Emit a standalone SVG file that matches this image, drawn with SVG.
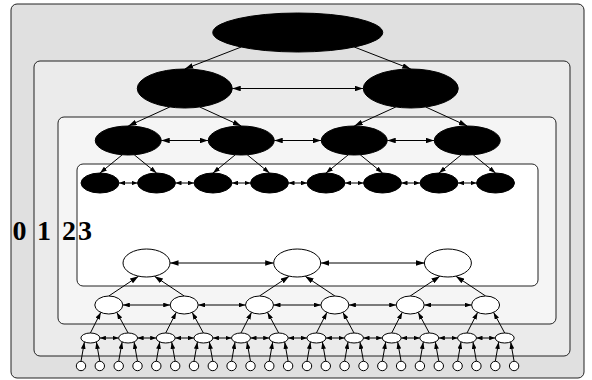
<svg xmlns="http://www.w3.org/2000/svg" width="592" height="380" viewBox="0 0 592 380">
<style>
.box{stroke:#222;stroke-width:1}
.b{fill:#000;stroke:#000;stroke-width:1}
.w{fill:#fff;stroke:#000;stroke-width:1}
.e{fill:none;stroke:#000;stroke-width:1}
.lbl{font-family:"Liberation Serif","Times New Roman",serif;font-weight:bold;font-size:28px;fill:#000}
.big{marker-end:url(#ab)}
.bigb{marker-start:url(#ab);marker-end:url(#ab)}
.med{marker-end:url(#am)}
.medb{marker-start:url(#am);marker-end:url(#am)}
.smb{marker-start:url(#as);marker-end:url(#as)}
</style>
<defs>
<marker id="ab" markerUnits="userSpaceOnUse" markerWidth="8.5" markerHeight="5.6" refX="8.5" refY="2.8" orient="auto-start-reverse"><path d="M0,0L8.5,2.8L0,5.6z" fill="#000"/></marker>
<marker id="am" markerUnits="userSpaceOnUse" markerWidth="7" markerHeight="4.8" refX="7" refY="2.4" orient="auto-start-reverse"><path d="M0,0L7,2.4L0,4.8z" fill="#000"/></marker>
<marker id="as" markerUnits="userSpaceOnUse" markerWidth="6" markerHeight="4.6" refX="6" refY="2.3" orient="auto-start-reverse"><path d="M0,0L6,2.3L0,4.6z" fill="#000"/></marker>
</defs>
<g id="cluster0"><rect class="box" x="11" y="4" width="573" height="374" rx="6" fill="#e0e0e0"/><text class="lbl" x="12.5" y="240">0</text></g>
<g id="cluster1"><rect class="box" x="34" y="61" width="536" height="295" rx="6" fill="#ebebeb"/><text class="lbl" x="37" y="240">1</text></g>
<g id="cluster2"><rect class="box" x="58" y="117" width="498" height="207" rx="6" fill="#f5f5f5"/><text class="lbl" x="62" y="240">2</text></g>
<g id="cluster3"><rect class="box" x="77" y="164" width="461" height="122" rx="6" fill="#ffffff"/><text class="lbl" x="78" y="240">3</text></g>
<g id="connectors">
<path class="e big" d="M241.25,47L184.75,69"/>
<path class="e big" d="M354.25,47L410.75,69"/>
<path class="e bigb" d="M232.25,88.5L363.25,88.5"/>
<path class="e big" d="M169.75,107L128.25,126"/>
<path class="e big" d="M199.75,107L241.25,126"/>
<path class="e big" d="M395.75,107L354.25,126"/>
<path class="e big" d="M425.75,107L467.25,126"/>
<path class="e bigb" d="M161.25,140.5L208.25,140.5"/>
<path class="e bigb" d="M274.25,140.5L321.25,140.5"/>
<path class="e bigb" d="M387.25,140.5L434.25,140.5"/>
<path class="e med" d="M122.25,154.8L100,173"/>
<path class="e med" d="M134.25,154.8L156.5,173"/>
<path class="e med" d="M235.25,154.8L213,173"/>
<path class="e med" d="M247.25,154.8L269.5,173"/>
<path class="e med" d="M348.25,154.8L326,173"/>
<path class="e med" d="M360.25,154.8L382.5,173"/>
<path class="e med" d="M461.25,154.8L439,173"/>
<path class="e med" d="M473.25,154.8L495.5,173"/>
<path class="e smb" d="M119,183L137.5,183"/>
<path class="e smb" d="M175.5,183L194,183"/>
<path class="e smb" d="M232,183L250.5,183"/>
<path class="e smb" d="M288.5,183L307,183"/>
<path class="e smb" d="M345,183L363.5,183"/>
<path class="e smb" d="M401.5,183L420,183"/>
<path class="e smb" d="M458,183L476.5,183"/>
<path class="e bigb" d="M170,263L273.7,263"/>
<path class="e bigb" d="M320.7,263L424.4,263"/>
<path class="e big" d="M108.8,296L138.5,276.2"/>
<path class="e big" d="M184.2,296L154.5,276.2"/>
<path class="e big" d="M259.5,296L289.2,276.2"/>
<path class="e big" d="M334.9,296L305.2,276.2"/>
<path class="e big" d="M410.2,296L439.9,276.2"/>
<path class="e big" d="M485.6,296L455.9,276.2"/>
<path class="e medb" d="M122.8,305L170.2,305"/>
<path class="e medb" d="M198.2,305L245.5,305"/>
<path class="e medb" d="M273.5,305L320.9,305"/>
<path class="e medb" d="M348.9,305L396.2,305"/>
<path class="e medb" d="M424.2,305L471.6,305"/>
<path class="e med" d="M90.4,333L100.8,312.4"/>
<path class="e med" d="M128.1,333L116.8,312.4"/>
<path class="e med" d="M165.7,333L176.2,312.4"/>
<path class="e med" d="M203.4,333L192.2,312.4"/>
<path class="e med" d="M241,333L251.5,312.4"/>
<path class="e med" d="M278.7,333L267.5,312.4"/>
<path class="e med" d="M316.4,333L326.9,312.4"/>
<path class="e med" d="M354,333L342.9,312.4"/>
<path class="e med" d="M391.7,333L402.2,312.4"/>
<path class="e med" d="M429.3,333L418.2,312.4"/>
<path class="e med" d="M467,333L477.6,312.4"/>
<path class="e med" d="M504.7,333L493.6,312.4"/>
<path class="e smb" d="M99.9,338L118.6,338"/>
<path class="e smb" d="M137.6,338L156.2,338"/>
<path class="e smb" d="M175.2,338L193.9,338"/>
<path class="e smb" d="M212.9,338L231.5,338"/>
<path class="e smb" d="M250.5,338L269.2,338"/>
<path class="e smb" d="M288.2,338L306.9,338"/>
<path class="e smb" d="M325.9,338L344.5,338"/>
<path class="e smb" d="M363.5,338L382.2,338"/>
<path class="e smb" d="M401.2,338L419.8,338"/>
<path class="e smb" d="M438.8,338L457.5,338"/>
<path class="e smb" d="M476.5,338L495.2,338"/>
<path class="e med" d="M81,361.3L84.4,342"/>
<path class="e med" d="M99.8,361.3L96.4,342"/>
<path class="e med" d="M118.7,361.3L122.1,342"/>
<path class="e med" d="M137.5,361.3L134.1,342"/>
<path class="e med" d="M156.3,361.3L159.7,342"/>
<path class="e med" d="M175.2,361.3L171.7,342"/>
<path class="e med" d="M194,361.3L197.4,342"/>
<path class="e med" d="M212.8,361.3L209.4,342"/>
<path class="e med" d="M231.6,361.3L235,342"/>
<path class="e med" d="M250.5,361.3L247,342"/>
<path class="e med" d="M269.3,361.3L272.7,342"/>
<path class="e med" d="M288.1,361.3L284.7,342"/>
<path class="e med" d="M307,361.3L310.4,342"/>
<path class="e med" d="M325.8,361.3L322.4,342"/>
<path class="e med" d="M344.6,361.3L348,342"/>
<path class="e med" d="M363.5,361.3L360,342"/>
<path class="e med" d="M382.3,361.3L385.7,342"/>
<path class="e med" d="M401.1,361.3L397.7,342"/>
<path class="e med" d="M419.9,361.3L423.3,342"/>
<path class="e med" d="M438.8,361.3L435.3,342"/>
<path class="e med" d="M457.6,361.3L461,342"/>
<path class="e med" d="M476.4,361.3L473,342"/>
<path class="e med" d="M495.3,361.3L498.7,342"/>
<path class="e med" d="M514.1,361.3L510.7,342"/>
</g>
<g id="t0"><ellipse class="b" cx="297.75" cy="32.5" rx="85" ry="19.5"/></g>
<g id="t1_0"><ellipse class="b" cx="184.75" cy="88.5" rx="47.5" ry="19.5"/></g>
<g id="t1_1"><ellipse class="b" cx="410.75" cy="88.5" rx="47.5" ry="19.5"/></g>
<g id="t2_0"><ellipse class="b" cx="128.25" cy="140.5" rx="33" ry="14.5"/></g>
<g id="t2_1"><ellipse class="b" cx="241.25" cy="140.5" rx="33" ry="14.5"/></g>
<g id="t2_2"><ellipse class="b" cx="354.25" cy="140.5" rx="33" ry="14.5"/></g>
<g id="t2_3"><ellipse class="b" cx="467.25" cy="140.5" rx="33" ry="14.5"/></g>
<g id="t3_0"><ellipse class="b" cx="100" cy="183" rx="19" ry="10"/></g>
<g id="t3_1"><ellipse class="b" cx="156.5" cy="183" rx="19" ry="10"/></g>
<g id="t3_2"><ellipse class="b" cx="213" cy="183" rx="19" ry="10"/></g>
<g id="t3_3"><ellipse class="b" cx="269.5" cy="183" rx="19" ry="10"/></g>
<g id="t3_4"><ellipse class="b" cx="326" cy="183" rx="19" ry="10"/></g>
<g id="t3_5"><ellipse class="b" cx="382.5" cy="183" rx="19" ry="10"/></g>
<g id="t3_6"><ellipse class="b" cx="439" cy="183" rx="19" ry="10"/></g>
<g id="t3_7"><ellipse class="b" cx="495.5" cy="183" rx="19" ry="10"/></g>
<g id="a0"><ellipse class="w" cx="146.5" cy="263" rx="23.5" ry="14"/></g>
<g id="a1"><ellipse class="w" cx="297.2" cy="263" rx="23.5" ry="14"/></g>
<g id="a2"><ellipse class="w" cx="447.9" cy="263" rx="23.5" ry="14"/></g>
<g id="b0"><ellipse class="w" cx="108.8" cy="305" rx="14" ry="9"/></g>
<g id="b1"><ellipse class="w" cx="184.2" cy="305" rx="14" ry="9"/></g>
<g id="b2"><ellipse class="w" cx="259.5" cy="305" rx="14" ry="9"/></g>
<g id="b3"><ellipse class="w" cx="334.9" cy="305" rx="14" ry="9"/></g>
<g id="b4"><ellipse class="w" cx="410.2" cy="305" rx="14" ry="9"/></g>
<g id="b5"><ellipse class="w" cx="485.6" cy="305" rx="14" ry="9"/></g>
<g id="c0"><ellipse class="w" cx="90.4" cy="338" rx="9.5" ry="5"/></g>
<g id="c1"><ellipse class="w" cx="128.1" cy="338" rx="9.5" ry="5"/></g>
<g id="c2"><ellipse class="w" cx="165.7" cy="338" rx="9.5" ry="5"/></g>
<g id="c3"><ellipse class="w" cx="203.4" cy="338" rx="9.5" ry="5"/></g>
<g id="c4"><ellipse class="w" cx="241" cy="338" rx="9.5" ry="5"/></g>
<g id="c5"><ellipse class="w" cx="278.7" cy="338" rx="9.5" ry="5"/></g>
<g id="c6"><ellipse class="w" cx="316.4" cy="338" rx="9.5" ry="5"/></g>
<g id="c7"><ellipse class="w" cx="354" cy="338" rx="9.5" ry="5"/></g>
<g id="c8"><ellipse class="w" cx="391.7" cy="338" rx="9.5" ry="5"/></g>
<g id="c9"><ellipse class="w" cx="429.3" cy="338" rx="9.5" ry="5"/></g>
<g id="c10"><ellipse class="w" cx="467" cy="338" rx="9.5" ry="5"/></g>
<g id="c11"><ellipse class="w" cx="504.7" cy="338" rx="9.5" ry="5"/></g>
<g id="d0"><circle class="w" cx="81" cy="366" r="4.7"/></g>
<g id="d1"><circle class="w" cx="99.8" cy="366" r="4.7"/></g>
<g id="d2"><circle class="w" cx="118.7" cy="366" r="4.7"/></g>
<g id="d3"><circle class="w" cx="137.5" cy="366" r="4.7"/></g>
<g id="d4"><circle class="w" cx="156.3" cy="366" r="4.7"/></g>
<g id="d5"><circle class="w" cx="175.2" cy="366" r="4.7"/></g>
<g id="d6"><circle class="w" cx="194" cy="366" r="4.7"/></g>
<g id="d7"><circle class="w" cx="212.8" cy="366" r="4.7"/></g>
<g id="d8"><circle class="w" cx="231.6" cy="366" r="4.7"/></g>
<g id="d9"><circle class="w" cx="250.5" cy="366" r="4.7"/></g>
<g id="d10"><circle class="w" cx="269.3" cy="366" r="4.7"/></g>
<g id="d11"><circle class="w" cx="288.1" cy="366" r="4.7"/></g>
<g id="d12"><circle class="w" cx="307" cy="366" r="4.7"/></g>
<g id="d13"><circle class="w" cx="325.8" cy="366" r="4.7"/></g>
<g id="d14"><circle class="w" cx="344.6" cy="366" r="4.7"/></g>
<g id="d15"><circle class="w" cx="363.5" cy="366" r="4.7"/></g>
<g id="d16"><circle class="w" cx="382.3" cy="366" r="4.7"/></g>
<g id="d17"><circle class="w" cx="401.1" cy="366" r="4.7"/></g>
<g id="d18"><circle class="w" cx="419.9" cy="366" r="4.7"/></g>
<g id="d19"><circle class="w" cx="438.8" cy="366" r="4.7"/></g>
<g id="d20"><circle class="w" cx="457.6" cy="366" r="4.7"/></g>
<g id="d21"><circle class="w" cx="476.4" cy="366" r="4.7"/></g>
<g id="d22"><circle class="w" cx="495.3" cy="366" r="4.7"/></g>
<g id="d23"><circle class="w" cx="514.1" cy="366" r="4.7"/></g>
</svg>
